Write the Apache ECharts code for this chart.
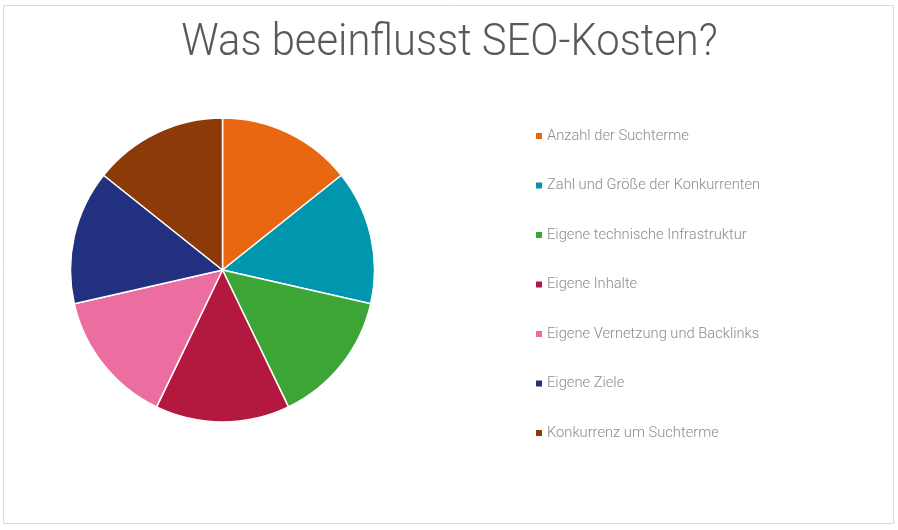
<!DOCTYPE html>
<html>
<head>
<meta charset="utf-8">
<script src="https://cdn.jsdelivr.net/npm/echarts@6/dist/echarts.min.js"></script>
<style>html,body{margin:0;padding:0;background:#fff;}#main{width:898px;height:530px;}</style>
</head>
<body>
<div id="main"></div>
<script>
const titleText = 'Was beeinflusst SEO-Kosten?';
const categories = [
  'Anzahl der Suchterme',
  'Zahl und Größe der Konkurrenten',
  'Eigene technische Infrastruktur',
  'Eigene Inhalte',
  'Eigene Vernetzung und Backlinks',
  'Eigene Ziele',
  'Konkurrenz um Suchterme'
];
const values = [1, 1, 1, 1, 1, 1, 1];
const colors = ['#EA6711', '#0096AE', '#3DA535', '#B3193E', '#EC6EA1', '#22317F', '#8B3A08'];

const chart = echarts.init(document.getElementById('main'));
chart.setOption({
  animation: false,
  color: colors,
  graphic: [{
    type: 'rect',
    shape: {x: 3.5, y: 5.5, width: 890, height: 518},
    style: {fill: 'none', stroke: '#d9d9d9', lineWidth: 1},
    silent: true, z: -1
  }, {
    type: 'text',
    x: 449.5,
    y: 43.5,
    scaleX: 0.948,
    style: {
      text: titleText,
      font: '300 44px Roboto',
      fill: '#595959',
      align: 'center',
      verticalAlign: 'middle'
    },
    silent: true
  }],
  legend: {
    orient: 'vertical',
    left: 529,
    top: 123,
    itemWidth: 8,
    itemHeight: 8,
    itemGap: 33.5,
    icon: 'rect',
    textStyle: {fontFamily: 'Roboto', fontWeight: 300, fontSize: 14.7, color: '#8c8c8c', lineHeight: 16, padding: [0, 0, 0, -1]},
    data: categories
  },
  series: [{
    type: 'pie',
    center: [222.5, 270],
    radius: [0, 152],
    startAngle: 90,
    clockwise: true,
    label: {show: false},
    labelLine: {show: false},
    itemStyle: {borderColor: '#fff', borderWidth: 1.5},
    data: categories.map((c, i) => ({name: c, value: values[i]}))
  }]
});
</script>
</body>
</html>
